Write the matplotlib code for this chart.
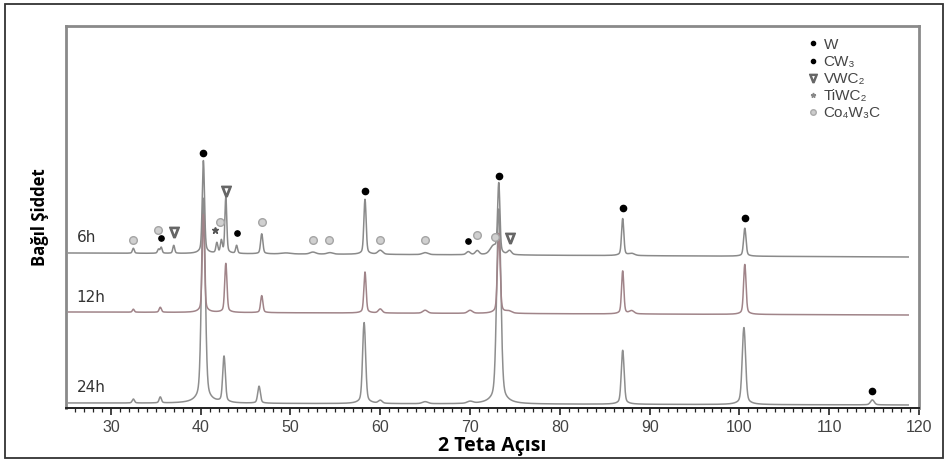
"""XRD patterns of milled powders (6h / 12h / 24h) with phase markers."""
import numpy as np
import matplotlib
matplotlib.use("Agg")
import matplotlib.pyplot as plt
from matplotlib.patches import Rectangle
from matplotlib.lines import Line2D

# ---- data -------------------------------------------------------------
# baseline level at start / end of scan, in plot units
series = ["6h", "12h", "24h"]
base_start = {"6h": 155, "12h": 96, "24h": 5}
base_end = {"6h": 151, "12h": 93, "24h": 3}

# peak positions (2theta), heights above baseline, widths (sigma)
peaks_6h_pos = [32.5, 35.3, 35.6, 37.0, 40.3, 41.8, 42.3, 42.8, 44.0, 46.8,
                49.5, 52.5, 54.4, 58.3, 60.0, 65.0, 69.8, 70.8, 72.6, 73.2,
                74.4, 87.0, 88.0, 100.6]
peaks_6h_h = [5, 4, 6, 8, 93, 10, 12, 56, 8, 20,
              1, 2, 1.5, 55, 4, 2, 3, 4, 8, 70,
              4, 37, 2, 28]
peaks_6h_w = [0.1, 0.1, 0.1, 0.1, 0.12, 0.1, 0.1, 0.1, 0.1, 0.12,
              0.5, 0.3, 0.3, 0.12, 0.25, 0.3, 0.2, 0.2, 0.35, 0.12,
              0.2, 0.12, 0.3, 0.13]

peaks_12h_pos = [32.5, 35.5, 40.3, 42.8, 46.8, 58.3, 60.0, 65.0, 70.0, 73.2,
                 74.3, 87.0, 88.0, 100.6]
peaks_12h_h = [3, 5, 98, 49, 17, 41, 4, 3, 3, 80, 2, 43, 3, 50]
peaks_12h_w = [0.1, 0.12, 0.12, 0.12, 0.12, 0.12, 0.2, 0.25, 0.25, 0.14,
               0.3, 0.12, 0.25, 0.13]

peaks_24h_pos = [32.5, 35.5, 40.3, 42.6, 46.5, 58.2, 60.0, 65.0, 70.0, 73.2,
                 87.0, 100.5, 114.8]
peaks_24h_h = [4, 6, 205, 46, 17, 81, 3, 2, 2, 195, 54, 77, 5]
peaks_24h_w = [0.12, 0.12, 0.2, 0.14, 0.14, 0.16, 0.2, 0.3, 0.3, 0.22,
               0.15, 0.18, 0.2]

line_colors = {"6h": "#8a8a8a", "12h": "#a08489", "24h": "#8e8e8e"}
label_y = {"6h": 170, "12h": 110, "24h": 20}

# phase markers (x, y in plot units)
w_x = [40.3, 58.3, 73.2, 87.0, 100.6, 114.8]
w_y = [255, 217, 232, 200, 190, 17]
cw3_x = [35.6, 44.0, 69.8]
cw3_y = [170, 175, 167]
vwc2_x = [37.0, 42.8, 74.5]
vwc2_y = [176, 217, 170]
tiwc2_x = [41.6]
tiwc2_y = [178]
co_x = [32.5, 35.2, 42.2, 46.8, 52.5, 54.3, 60.0, 65.0, 70.8, 72.8]
co_y = [168, 178, 186, 186, 168, 168, 168, 168, 173, 171]

legend_labels = ["W", "CW₃", "VWC₂", "TiWC₂", "Co₄W₃C"]

x = np.linspace(25.3, 118.8, 6000)


def pattern(pos, h, w, b0, b1):
    y = b0 + (b1 - b0) * (x - x[0]) / (x[-1] - x[0])
    for p, hh, ww in zip(pos, h, w):
        y = y + 0.85 * hh * np.exp(-0.5 * ((x - p) / ww) ** 2)
        y = y + 0.15 * hh / (1 + ((x - p) / (2.5 * ww)) ** 2)
    return y


fig = plt.figure(figsize=(9.5, 4.63), dpi=100)
fig.patches.append(Rectangle((5 / 950, 5 / 463), 938 / 950, 454 / 463,
                             transform=fig.transFigure, fill=False,
                             edgecolor="#333333", lw=1.3))
ax = fig.add_axes([66 / 950, 55 / 463, 853 / 950, 382 / 463])

curves = {
    "24h": pattern(peaks_24h_pos, peaks_24h_h, peaks_24h_w,
                   base_start["24h"], base_end["24h"]),
    "6h": pattern(peaks_6h_pos, peaks_6h_h, peaks_6h_w,
                  base_start["6h"], base_end["6h"]),
    "12h": pattern(peaks_12h_pos, peaks_12h_h, peaks_12h_w,
                   base_start["12h"], base_end["12h"]),
}
for name in ["24h", "6h", "12h"]:
    ax.plot(x, curves[name], color=line_colors[name], lw=1.1)
for name in series:
    ax.text(26.2, label_y[name], name, fontsize=11, color="#333333",
            family=["Verdana", "DejaVu Sans"], va="center")

ax.plot(w_x, w_y, "o", color="black", ms=4.5, ls="none")
ax.plot(cw3_x, cw3_y, "o", color="black", ms=3.8, ls="none")
ax.plot(vwc2_x, vwc2_y, ls="none", marker=r"$\nabla$", color="#666666",
        ms=7.5)
ax.plot(tiwc2_x, tiwc2_y, "*", color="#555555", ms=5, ls="none")
ax.plot(co_x, co_y, "o", mfc="#d0d0d0", mec="#a5a5a5", ms=5.5, ls="none")

handles = [
    Line2D([], [], ls="none", marker="o", color="black", ms=3),
    Line2D([], [], ls="none", marker="o", color="black", ms=3),
    Line2D([], [], ls="none", marker=r"$\nabla$", color="#666666", ms=6),
    Line2D([], [], ls="none", marker="*", color="#888888", ms=3.5),
    Line2D([], [], ls="none", marker="o", mfc="#cccccc", mec="#aaaaaa", ms=4),
]
ax.legend(handles, legend_labels, loc="upper left",
          bbox_to_anchor=(0.855, 1.005), frameon=False, handlelength=0.5,
          handletextpad=0.45, labelspacing=0.2,
          prop={"family": ["Liberation Sans", "DejaVu Sans"], "size": 11},
          labelcolor="#454545")

ax.set_xlim(25, 119.8)
ax.set_ylim(0, 382)
ax.set_xticks(np.arange(30, 121, 10))
ax.set_xticks(np.arange(26, 120, 1), minor=True)
ax.set_yticks([])
ax.tick_params(axis="x", which="major", length=5, width=1.2, color="#222222",
               labelsize=11.5, labelcolor="#444444", pad=4)
ax.tick_params(axis="x", which="minor", length=3, width=0.9, color="#222222")
for lab in ax.get_xticklabels():
    lab.set_family(["Liberation Sans", "DejaVu Sans"])

for side in ["left", "top", "right"]:
    ax.spines[side].set_color("#8a8a8a")
    ax.spines[side].set_linewidth(2)
ax.spines["bottom"].set_color("#222222")
ax.spines["bottom"].set_linewidth(1.4)

ax.set_xlabel("2 Teta Açısı", fontsize=14, fontweight="bold",
              family=["Open Sans", "DejaVu Sans"], labelpad=0)
ax.set_ylabel("Bağıl Şiddet", fontsize=12, fontweight="bold",
              family=["Open Sans", "DejaVu Sans"], labelpad=12)

fig.savefig("out.png", dpi=100)
